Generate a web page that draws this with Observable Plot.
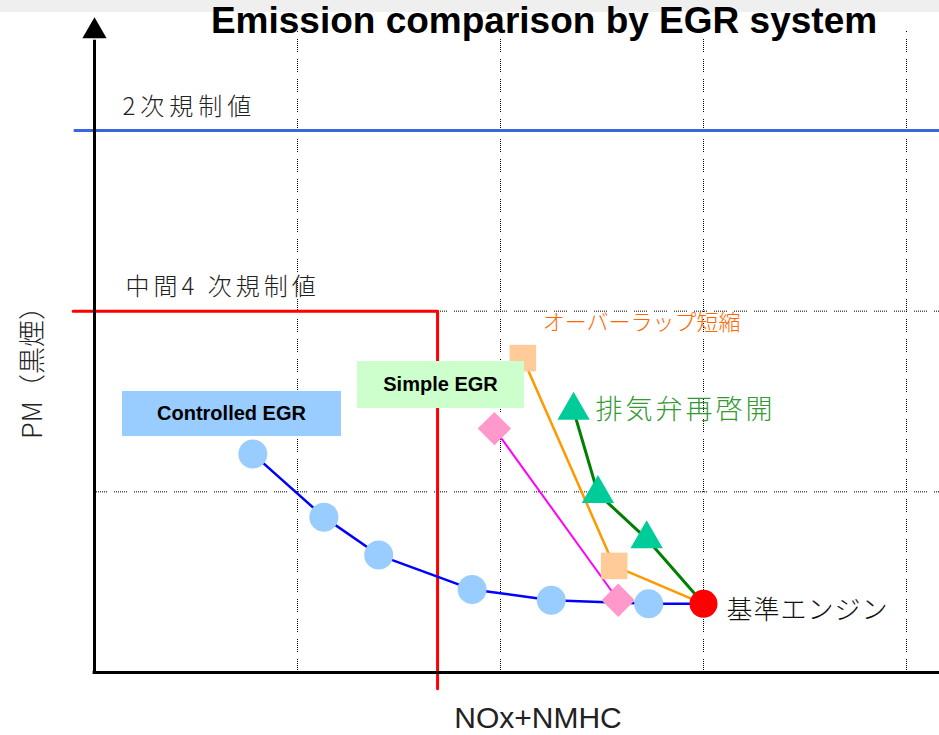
<!DOCTYPE html>
<html>
<head>
<meta charset="utf-8">
<script src="https://cdn.jsdelivr.net/npm/d3@7"></script>
<script src="https://cdn.jsdelivr.net/npm/@observablehq/plot@0.6"></script>
<style>
  body { margin: 0; background: #fff; }
  #wrap { position: relative; width: 939px; height: 735px; overflow: hidden; background: #fff; }
  #topbar { position: absolute; left: 0; top: 0; width: 939px; height: 12px; background: #efefef; }
  #title { position: absolute; left: 0; top: 1px; width: 1088px; text-align: center;
           font: bold 37px "Liberation Sans", Arial, sans-serif; line-height: 40px; color: #000; white-space: nowrap; }
  .legend { position: absolute; display: flex; align-items: center; justify-content: center;
            font: bold 20px "Liberation Sans", Arial, sans-serif; color: #000; }
  #ylabel { position: absolute; left: 30px; top: 366px; transform: translate(-50%, -50%) rotate(-90deg);
            font: 300 27px "Noto Sans CJK JP", sans-serif; color: #222; white-space: nowrap; }
  #xlabel { position: absolute; left: 0; top: 703px; width: 1076px; text-align: center;
            font: 30px "Liberation Sans", Arial, sans-serif; line-height: 30px; color: #222; white-space: nowrap; }
  svg { position: absolute; left: 0; top: 0; }
</style>
</head>
<body>
<div id="wrap">
  <div id="chart"></div>
  <div id="topbar"></div>
  <div id="title"></div>
  <div id="ylabel"></div>
  <div id="xlabel"></div>
</div>
<script>
// ---- Data (x: NOx+NMHC, y: PM, in grid units) ----
const titleText = "Emission comparison by EGR system";
const xAxisLabel = "NOx+NMHC";
const yAxisLabel = "PM（黒煙）";

const gridX = [1, 2, 3, 4];
const gridY = [1, 2, 3];

const baseEngine = [[3.00, 0.38]];                 // 基準エンジン
const controlledEGR = [[0.78, 1.21], [1.13, 0.86], [1.40, 0.65], [1.86, 0.46], [2.25, 0.40], [2.73, 0.38]];
const simpleEGR = [[1.97, 1.35], [2.58, 0.40]];
const overlapShort = [[2.11, 1.74], [2.56, 0.59]]; // オーバーラップ短縮
const exhaustReopen = [[2.36, 1.45], [2.48, 0.99], [2.72, 0.74]]; // 排気弁再啓開

const limitPhase2PM = 3.0;                          // 2次規制値
const limitInterim4 = {nox: 1.69, pm: 2.0};         // 中間4次規制値

const labelBase = "基準エンジン";
const labelOverlap = "オーバーラップ短縮";
const labelExhaust = "排気弁再啓開";
const labelPhase2 = "2次規制値";
const labelInterim4 = "中間4 次規制値";
const legendControlled = "Controlled EGR";
const legendSimple = "Simple EGR";

// ---- Build ----
const xMax = 4.2, yTop = 3.55;
const toPts = (arr, s) => arr.map(([x, y]) => ({x, y, s}));
const ctrlLine = toPts([...controlledEGR, ...baseEngine], "c");
const simpLine = toPts(simpleEGR, "s");
const ovLine = toPts([...overlapShort, ...baseEngine], "o");
const exLine = toPts([...exhaustReopen, ...baseEngine], "e");
const redLimit = [
  {x: -0.105, y: limitInterim4.pm},
  {x: limitInterim4.nox, y: limitInterim4.pm},
  {x: limitInterim4.nox, y: -0.09}
];
const dotted = "1 1 1 1 1 1 1 1 1 1 1 1 1 7";
const jp = "Noto Sans CJK JP";

const chart = Plot.plot({
  width: 939,
  height: 735,
  style: {background: "transparent", overflow: "visible"},
  x: {domain: [0, 4], range: [94, 906], axis: null},
  y: {domain: [0, 3], range: [672, 130], axis: null},
  marks: [
    Plot.ruleX(gridX, {y1: 0, y2: yTop, stroke: "#000", strokeWidth: 1, strokeDasharray: dotted}),
    Plot.ruleY(gridY, {x1: 0, x2: xMax, stroke: "#000", strokeWidth: 1, strokeDasharray: dotted}),
    Plot.ruleY([limitPhase2PM], {x1: -0.1, x2: xMax, stroke: "#3a66e0", strokeWidth: 3}),
    Plot.line(redLimit, {x: "x", y: "y", stroke: "#ff0000", strokeWidth: 3, curve: "linear"}),
    Plot.ruleY([0], {x1: -0.007, x2: xMax, stroke: "#000", strokeWidth: 3}),
    Plot.ruleX([0], {y1: 0, y2: yTop - 0.05, stroke: "#000", strokeWidth: 3}),
    Plot.dot([{x: 0, y: yTop}], {x: "x", y: "y", symbol: "triangle", r: 9, fill: "#000", stroke: "none"}),
    Plot.line(ctrlLine, {x: "x", y: "y", stroke: "#0000ff", strokeWidth: 2.5}),
    Plot.line(simpLine, {x: "x", y: "y", stroke: "#ff00ff", strokeWidth: 2}),
    Plot.line(ovLine, {x: "x", y: "y", stroke: "#ff9900", strokeWidth: 2.5}),
    Plot.line(exLine, {x: "x", y: "y", stroke: "#008000", strokeWidth: 3}),
    Plot.dot(toPts(controlledEGR), {x: "x", y: "y", r: 14.5, fill: "#99ccff", stroke: "none"}),
    Plot.dot(toPts(simpleEGR), {x: "x", y: "y", symbol: "diamond2", r: 15, fill: "#ff99cc", stroke: "none"}),
    Plot.dot(toPts(overlapShort), {x: "x", y: "y", symbol: "square", r: 15, fill: "#ffcc99", stroke: "none"}),
    Plot.dot(toPts(exhaustReopen), {x: "x", y: "y", symbol: "triangle", r: 12, fill: "#00cc99", stroke: "none"}),
    Plot.dot(toPts(baseEngine), {x: "x", y: "y", r: 14, fill: "#ff0000", stroke: "none"}),
    Plot.text(toPts(baseEngine), {x: "x", y: "y", text: () => labelBase, dx: 23, dy: 7, textAnchor: "start",
      fontSize: 26, fontFamily: jp, fill: "#111"}),
    Plot.text(toPts(overlapShort.slice(0, 1)), {x: "x", y: "y", text: () => labelOverlap, dx: 20, dy: -35, textAnchor: "start",
      fontSize: 22, fontFamily: jp, fill: "#ff6600"}),
    Plot.text(toPts(exhaustReopen.slice(0, 1)), {x: "x", y: "y", text: () => labelExhaust, dx: 22, dy: 0, textAnchor: "start",
      fontSize: 27, fontFamily: jp, fill: "#339933"}),
    Plot.text([{x: 0, y: limitPhase2PM}], {x: "x", y: "y", text: () => labelPhase2, dx: 28, dy: -23, textAnchor: "start",
      fontSize: 24, fontFamily: jp, fill: "#222"}),
    Plot.text([{x: 0, y: limitInterim4.pm}], {x: "x", y: "y", text: () => labelInterim4, dx: 31, dy: -24, textAnchor: "start",
      fontSize: 24, fontFamily: jp, fill: "#222"})
  ]
});

chart.querySelectorAll("text").forEach(t => {
  const s = t.textContent;
  if (s === labelPhase2) t.setAttribute("letter-spacing", "5");
  else if (s === labelInterim4) t.setAttribute("letter-spacing", "4");
  else if (s === labelExhaust) t.setAttribute("letter-spacing", "3");
  else if (s === labelBase) t.setAttribute("letter-spacing", "1");
  t.setAttribute("font-weight", "300");
});
document.getElementById("chart").appendChild(chart);

document.getElementById("title").textContent = titleText;
document.getElementById("xlabel").textContent = xAxisLabel;
document.getElementById("ylabel").textContent = yAxisLabel;

const wrap = document.getElementById("wrap");
function addLegend(text, color, left, top, w, h) {
  const d = document.createElement("div");
  d.className = "legend";
  d.textContent = text;
  Object.assign(d.style, {left: left + "px", top: top + "px", width: w + "px", height: h + "px", background: color});
  wrap.appendChild(d);
}
addLegend(legendControlled, "#99ccff", 122, 391, 219, 45);
addLegend(legendSimple, "#ccffcc", 357, 361, 167, 47);
</script>
</body>
</html>
